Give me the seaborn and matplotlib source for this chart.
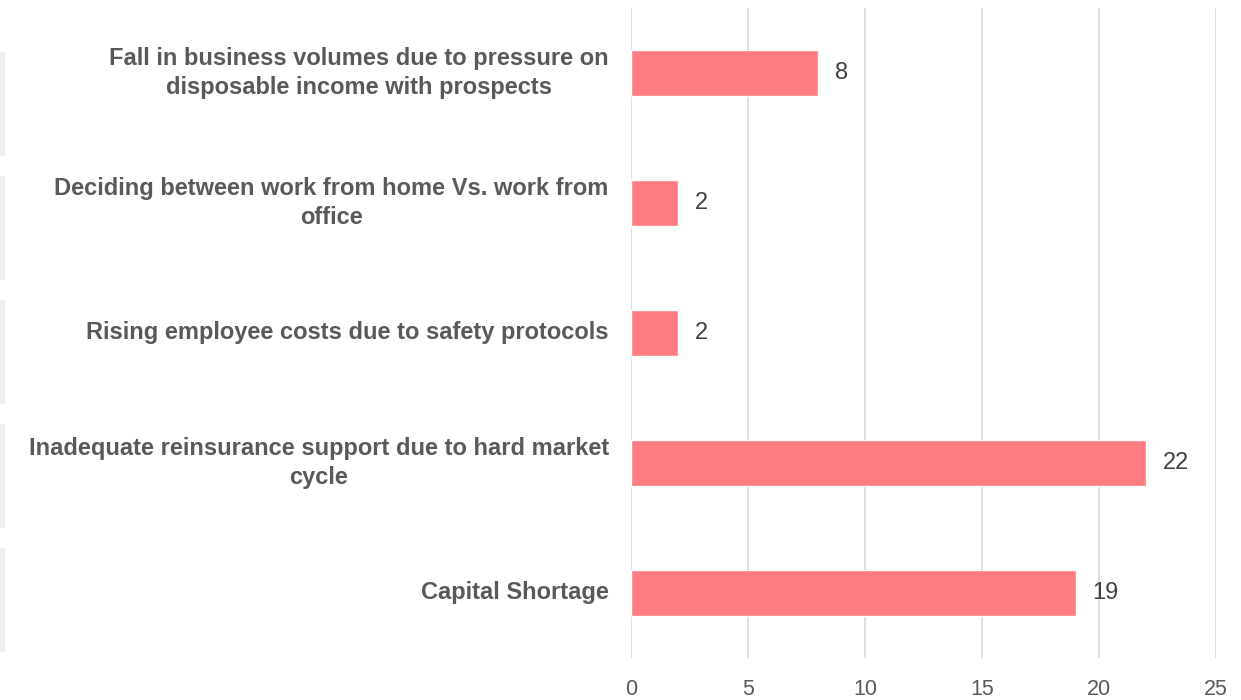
import matplotlib
matplotlib.use("Agg")
import matplotlib.pyplot as plt
import seaborn as sns
import pandas as pd
from matplotlib.patches import Rectangle

categories = [
    "Fall in business volumes due to pressure on\ndisposable income with prospects",
    "Deciding between work from home Vs. work from\noffice",
    "Rising employee costs due to safety protocols",
    "Inadequate reinsurance support due to hard market\ncycle",
    "Capital Shortage",
]
values = [8, 2, 2, 22, 19]
xticks = [0, 5, 10, 15, 20, 25]

sns.set_theme(style="white")
plt.rcParams["font.family"] = ["Liberation Sans", "DejaVu Sans"]

df = pd.DataFrame({"category": categories, "value": values})

fig = plt.figure(figsize=(12.41, 7.0), dpi=100)
ax = fig.add_axes([631/1241, 42/700, 585/1241, 650/700])

sns.barplot(data=df, y="category", x="value", orient="h", color="#FF7C80",
            width=0.35, saturation=1, ax=ax, zorder=3)

ax.set_xlim(0, 25)
ax.set_ylim(4.5, -0.5)
ax.set_xticks(xticks)
ax.set_xticklabels([str(t) for t in xticks])
ax.grid(axis="x", color="#D9D9D9", linewidth=1.2, zorder=0)
ax.set_axisbelow(True)
for s in ax.spines.values():
    s.set_visible(False)
ax.set_xlabel("")
ax.set_ylabel("")
ax.tick_params(axis="x", length=0, pad=15, labelsize=15.5, labelcolor="#595959")
ax.tick_params(axis="y", length=0, pad=16, labelsize=17, labelcolor="#595959")
for lbl in ax.get_yticklabels():
    lbl.set_fontweight("bold")
    lbl.set_horizontalalignment("right")
    lbl.set_multialignment("center")
    lbl.set_linespacing(1.3)
    lbl.set_verticalalignment("center")

for c in ax.containers:
    ax.bar_label(c, labels=[str(v) for v in values], padding=12,
                 fontsize=17, color="#404040")

# faint side panels at the far left edge
for top in [52, 176, 300, 424, 548]:
    fig.patches.append(Rectangle((0, 1 - (top + 104)/700), 5/1241, 104/700,
                                 transform=fig.transFigure, facecolor="#EEF0F0",
                                 edgecolor="none"))

fig.savefig("out.png", dpi=100)
